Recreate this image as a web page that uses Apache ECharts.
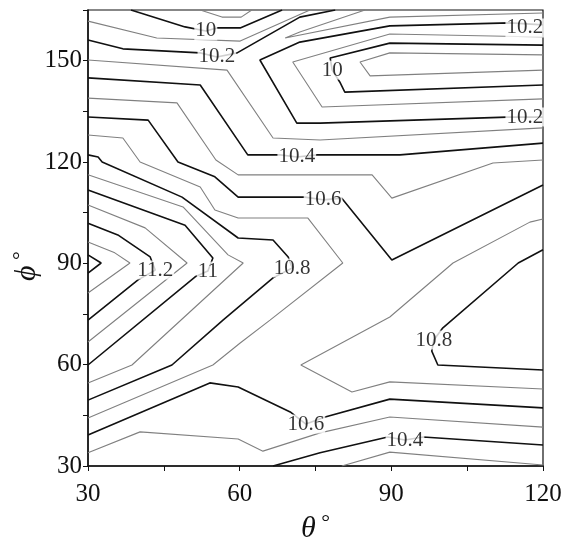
<!DOCTYPE html>
<html><head><meta charset="utf-8">
<script src="https://cdn.jsdelivr.net/npm/echarts@6/dist/echarts.min.js"></script>
<style>html,body{margin:0;padding:0;background:#fff}#c{width:563px;height:538px}</style>
</head><body><div id="c"></div>
<script>
// axis ticks
const thetaTicks = [30, 60, 90, 120];
const phiTicks = [30, 60, 90, 120, 150];

// contour polylines, [theta, phi] in degrees
const c099a = [[52.2,165],[56.5,162.9],[60.3,162.9],[62.4,165]];
const c099b = [[120,151.7],[89.7,152.3],[83.8,149.6],[85.8,145.5],[120,147.2]];
const c100a = [[38.5,165],[49.2,160.0],[53.3,158.8],[55.5,159.7],[60.1,159.7],[68.4,165]];
const c100b = [[120,154.6],[89.7,155.2],[77.9,150.8],[78.3,147.2],[79.8,143.7],[80.8,140.7],[120,142.8]];
const c101a = [[30,161.7],[43.6,156.7],[60.1,155.8],[73.9,165]];
const c101b = [[120,157.0],[89.7,157.9],[70.5,149.6],[76.3,136.3],[120,138.7]];
const c102a = [[30,156.1],[36.9,153.5],[52.2,152.3],[55.5,151.1],[59.5,152.3],[71.9,162.9],[78.9,165]];
const c102b = [[120,160.6],[113.5,161.2],[89.7,160.3],[71.9,155.5],[64.0,150.2],[71.3,131.5],[75.9,131.5],[112.9,133.3],[120,133.3]];
const c103a = [[30,150.2],[57.5,147.2],[66.6,127.1],[75.9,126.5],[120,130.1]];
const c103b = [[84.8,165],[71.9,158.5],[69.0,156.7],[89.7,162.9],[120,164.1]];
const c103c = [[80.2,30],[89.7,34.1],[120,30.3]];
const c104a = [[30,144.9],[52.2,142.8],[61.6,122.1],[68.0,122.1],[71.3,121.5],[75.3,122.1],[91.7,122.1],[120,125.6]];
const c104b = [[66.6,30],[75.9,33.9],[89.3,38.6],[92.7,37.7],[96.3,38.6],[120,36.2]];
const c105a = [[30,138.9],[47.6,137.5],[55.3,120.6],[59.7,116.2],[86.2,116.2],[90.1,109.3],[110.1,119.7],[120,120.6]];
const c105b = [[30,33.9],[40.3,40.1],[59.7,38.0],[64.6,34.4],[75.9,39.8],[89.7,44.5],[120,41.5]];
const c106a = [[30,133.3],[41.9,132.4],[47.8,120.0],[55.1,115.6],[59.7,109.6],[72.9,109.6],[76.5,108.8],[80.2,109.3],[90.1,91.0],[120,113.2]];
const c106b = [[30,39.2],[54.1,54.6],[59.7,53.4],[70.0,46.0],[73.1,42.4],[76.9,44.5],[89.7,49.8],[120,47.2]];
const c107a = [[30,128.0],[36.9,127.1],[40.3,120.0],[52.2,112.6],[55.1,105.8],[59.7,103.4],[73.5,103.4],[80.4,90.1],[66.0,73.2],[60.1,66.4],[54.7,59.9],[30,44.2]];
const c107b = [[120,103.1],[117.4,102.2],[102.2,90.1],[89.7,74.1],[72.1,59.9],[82.2,51.9],[89.7,54.9],[120,52.8]];
const c108a = [[30,122.1],[32.0,121.5],[32.8,120.0],[48.6,109.6],[59.7,97.5],[66.6,96.9],[69.6,91.9],[70.4,88.6],[66.6,85.7],[56.7,73.2],[46.6,59.9],[30,49.5]];
const c108b = [[120,94.0],[115.1,90.1],[100.2,70.9],[98.4,67.3],[98.0,64.0],[99.2,59.9],[120,58.4]];
const c109 = [[30,116.2],[48.8,106.7],[57.7,92.5],[60.7,90.1],[38.7,59.9],[30,54.6]];
const c110 = [[30,111.7],[49.2,101.3],[54.7,91.6],[53.7,87.7],[51.2,86.0],[30,59.9]];
const c111 = [[30,107.3],[41.3,100.5],[49.6,90.1],[30,66.7]];
const c112 = [[30,101.9],[35.9,98.4],[42.3,91.9],[43.3,88.0],[39.9,85.1],[30,73.2]];
const c113 = [[30,96.3],[35.3,93.1],[38.3,90.1],[30,81.2]];
const c114 = [[30,92.5],[32.6,90.1],[30,87.1]];

// black = even tenths, gray = odd tenths
const blackLines = [c100a, c100b, c102a, c102b, c104a, c104b, c106a, c106b, c108a, c108b, c110, c112, c114];
const grayLines = [c099a, c099b, c101a, c101b, c103a, c103b, c103c, c105a, c105b, c107a, c107b, c109, c111, c113];

// contour labels
const labelText  = ['10', '10.2', '10', '10.2', '10.2', '10.4', '10.6', '10.8', '11', '11.2', '10.8', '10.6', '10.4'];
const labelTheta = [53.3, 55.5, 78.3, 116.4, 116.4, 71.3, 76.5, 70.4, 53.7, 43.3, 98.4, 73.1, 92.7];
const labelPhi   = [158.8, 151.1, 147.2, 159.7, 133.3, 121.5, 108.8, 88.6, 87.7, 88.0, 67.3, 42.4, 37.7];

const serif = '"Liberation Serif", "DejaVu Serif", serif';
const series = [];
blackLines.forEach(d => series.push({type:'line', data:d, showSymbol:false, silent:true, z:2,
  lineStyle:{color:'#111', width:1.6}}));
grayLines.forEach(d => series.push({type:'line', data:d, showSymbol:false, silent:true, z:2,
  lineStyle:{color:'#808080', width:1.1}}));
series.push({type:'scatter', z:10, silent:true, symbolSize:1, itemStyle:{color:'rgba(0,0,0,0)'},
  data: labelText.map((t,i)=>({value:[labelTheta[i], labelPhi[i]], name:t})),
  label:{show:true, position:'inside', formatter:p=>p.name, fontFamily:serif, fontSize:21, color:'#000',
    backgroundColor:'#fff', padding:[-1,1]}});

const chart = echarts.init(document.getElementById('c'), null, {renderer:'canvas'});
chart.setOption({
  animation:false,
  backgroundColor:'#fff',
  grid:{left:88, right:20, top:10, bottom:72, outerBoundsMode:'none', containLabel:false,
    show:true, borderColor:'#111', borderWidth:1.2},
  xAxis:{type:'value', min:30, max:120, interval:15,
    axisLine:{show:true, onZero:false, lineStyle:{color:'#111', width:1.5}},
    axisTick:{show:true, length:5, lineStyle:{color:'#111'}},
    splitLine:{show:false},
    axisLabel:{fontFamily:serif, fontSize:25, color:'#111', margin:16,
      formatter:v => thetaTicks.includes(v) ? String(v) : ''},
    name:'{a|θ}{b| °}', nameLocation:'middle', nameGap:46, nameMoveOverlap:false,
    nameTextStyle:{rich:{a:{fontFamily:serif, fontSize:30, fontStyle:'italic', color:'#111'},
      b:{fontFamily:serif, fontSize:22, color:'#111', padding:[0,0,12,0]}}}},
  yAxis:{type:'value', min:30, max:165, interval:15,
    axisLine:{show:true, onZero:false, lineStyle:{color:'#111', width:1.5}},
    axisTick:{show:true, length:5, lineStyle:{color:'#111'}},
    splitLine:{show:false},
    axisLabel:{fontFamily:serif, fontSize:25, color:'#111', margin:6,
      formatter:v => phiTicks.includes(v) ? String(v) : ''},
    name:'{a|ϕ}{b| °}', nameLocation:'middle', nameGap:44, nameMoveOverlap:false,
    nameTextStyle:{padding:[0,56,0,0], rich:{a:{fontFamily:serif, fontSize:30, fontStyle:'italic', color:'#111'},
      b:{fontFamily:serif, fontSize:22, color:'#111', padding:[0,0,12,0]}}}},
  series: series
});
</script></body></html>
